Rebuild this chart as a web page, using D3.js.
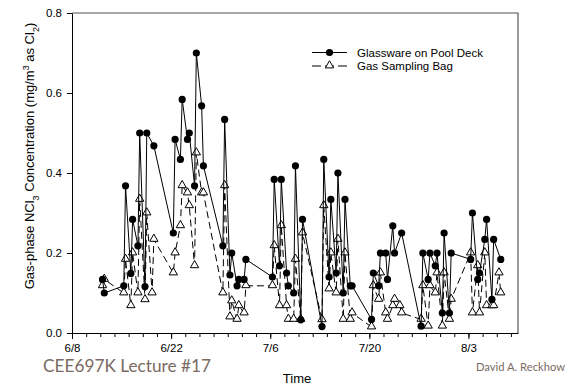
<!DOCTYPE html>
<html>
<head>
<meta charset="utf-8">
<script src="https://cdn.jsdelivr.net/npm/d3@7"></script>
<style>
  body { margin: 0; background: #fff; }
  svg { display: block; font-family: "Liberation Sans", Arial, sans-serif; }
</style>
</head>
<body>
<svg id="chart" width="571" height="385"></svg>
<script>
// sampling days (2009), two samples per day: morning and afternoon
var sampleDays = ["6/12",
  "6/15","6/16","6/17","6/18","6/19",
  "6/22","6/23","6/24","6/25","6/26",
  "6/29","6/30","7/1","7/2",
  "7/6","7/7","7/8","7/9","7/10",
  "7/13","7/14","7/15","7/16","7/17",
  "7/20","7/21","7/22","7/23","7/24",
  "7/27","7/28","7/29","7/30","7/31",
  "8/3","8/4","8/5","8/6","8/7"];
var sampleTimes = ["07:30", "13:30"];

// values in mg/m3 as Cl2, AM then PM for each day
var glassware = [0.134,0.100,
  0.118,0.368, 0.149,0.284, 0.218,0.500, 0.116,0.500, null,0.468,
  0.250,0.484, 0.434,0.584, 0.484,0.500, 0.368,0.700, 0.568,0.418,
  0.218,0.534, 0.145,0.200, 0.118,0.134, 0.134,0.184,
  0.140,0.384, 0.168,0.384, 0.150,0.118, 0.100,0.418, 0.033,0.284,
  0.016,0.434, 0.140,0.334, 0.150,0.400, 0.100,0.334, 0.118,0.118,
  0.034,0.150, 0.118,0.200, 0.200,0.134, 0.268,0.200, null,0.250,
  0.017,0.200, 0.134,0.200, 0.168,0.200, 0.050,0.250, 0.050,0.200,
  0.184,0.300, 0.134,0.150, 0.234,0.284, 0.084,0.234, null,0.184];
var gasBag = [0.118,0.134,
  0.100,0.184, 0.068,0.200, 0.100,0.334, 0.083,0.300, 0.100,0.234,
  0.150,0.200, 0.268,0.368, 0.350,0.318, 0.168,0.450, 0.350,0.350,
  0.100,0.368, 0.040,0.080, 0.034,0.068, 0.050,0.118,
  0.118,0.218, 0.068,0.268, 0.068,0.034, 0.034,0.184, 0.034,0.250,
  0.033,0.318, 0.110,0.200, 0.100,0.234, 0.034,0.200, 0.034,0.050,
  0.015,0.118, 0.084,0.150, 0.050,0.034, 0.068,0.084, 0.068,0.050,
  0.034,0.118, 0.017,0.118, 0.100,0.150, 0.017,0.150, 0.034,0.084,
  0.200,0.050, 0.168,0.050, 0.200,0.068, 0.068,0.068, 0.150,0.100];

var xTickLabels = ["6/8", "6/22", "7/6", "7/20", "8/3"];
var yTicks = [0.0, 0.2, 0.4, 0.6, 0.8];
var seriesNames = ["Glassware on Pool Deck", "Gas Sampling Bag"];

var year = 2009;
var parseTime = d3.timeParse("%m/%d/%Y %H:%M");
var parseDay = d3.timeParse("%m/%d/%Y");

var times = [];
sampleDays.forEach(function(d) {
  sampleTimes.forEach(function(t) { times.push(parseTime(d + "/" + year + " " + t)); });
});

function toPoints(values) {
  return values.map(function(v, i) { return {t: times[i], v: v}; })
    .filter(function(p) { return p.v !== null; });
}

var svg = d3.select("#chart");
var plotLeft = 72, plotRight = 518, plotTop = 13, plotBottom = 333;

var x = d3.scaleTime()
  .domain([parseDay("6/8/" + year), parseDay("8/10/" + year)])
  .range([plotLeft, plotRight]);
var y = d3.scaleLinear().domain([0, 0.8]).range([plotBottom, plotTop]);

// frame (top and right)
svg.append("path")
  .attr("d", "M" + plotLeft + "," + plotTop + "H" + plotRight + "V" + plotBottom)
  .attr("fill", "none").attr("stroke", "#555").attr("stroke-width", 1.2);

// x axis: minor ticks every 2 days, labelled majors every 2 weeks
var majorDates = xTickLabels.map(function(s) { return parseDay(s + "/" + year); });
var minorDates = d3.timeDay.range(x.domain()[0], d3.timeDay.offset(x.domain()[1], 1), 2);

svg.append("g")
  .attr("transform", "translate(0," + plotBottom + ")")
  .call(d3.axisBottom(x).tickValues(minorDates).tickSize(4).tickFormat("").tickSizeOuter(0))
  .call(function(g) { g.select(".domain").remove(); g.selectAll("text").remove(); });

var xAxis = svg.append("g")
  .attr("transform", "translate(0," + plotBottom + ")")
  .call(d3.axisBottom(x).tickValues(majorDates).tickSize(6).tickSizeOuter(0).tickPadding(5)
    .tickFormat(function(d, i) { return xTickLabels[i]; }));
xAxis.selectAll("text").attr("font-size", 11.5).attr("font-family", "Liberation Sans, Arial");

var yAxis = svg.append("g")
  .attr("transform", "translate(" + plotLeft + ",0)")
  .call(d3.axisLeft(y).tickValues(yTicks).tickSize(5).tickSizeOuter(0).tickPadding(5)
    .tickFormat(d3.format(".1f")));
yAxis.selectAll("text").attr("font-size", 11.5).attr("font-family", "Liberation Sans, Arial");
svg.selectAll(".domain").attr("stroke", "#000");

// axis titles
var ylab = svg.append("text")
  .attr("transform", "translate(34,156) rotate(-90)")
  .attr("text-anchor", "middle")
  .attr("font-size", 13);
ylab.append("tspan").text("Gas-phase NCl");
ylab.append("tspan").attr("font-size", 9).attr("baseline-shift", "sub").text("3");
ylab.append("tspan").text(" Concentration (mg/m");
ylab.append("tspan").attr("font-size", 9).attr("baseline-shift", "super").text("3");
ylab.append("tspan").text(" as Cl");
ylab.append("tspan").attr("font-size", 9).attr("baseline-shift", "sub").text("2");
ylab.append("tspan").text(")");

svg.append("text")
  .attr("x", (plotLeft + plotRight) / 2 + 2).attr("y", 383)
  .attr("text-anchor", "middle").attr("font-size", 13)
  .text("Time");

// series
var line = d3.line().x(function(d) { return x(d.t); }).y(function(d) { return y(d.v); });
var tri = d3.symbol().type(d3.symbolTriangle).size(30);

var bagPts = toPoints(gasBag);
svg.append("path").datum(bagPts)
  .attr("d", line).attr("fill", "none").attr("stroke", "#000")
  .attr("stroke-width", 1).attr("stroke-dasharray", "7,4");
svg.selectAll(".tri").data(bagPts).enter().append("path")
  .attr("class", "tri")
  .attr("d", tri)
  .attr("transform", function(d) { return "translate(" + x(d.t) + "," + (y(d.v) - 0.5) + ")"; })
  .attr("fill", "#fff").attr("stroke", "#000").attr("stroke-width", 1);

var glassPts = toPoints(glassware);
svg.append("path").datum(glassPts)
  .attr("d", line).attr("fill", "none").attr("stroke", "#000").attr("stroke-width", 1);
svg.selectAll(".dot").data(glassPts).enter().append("circle")
  .attr("class", "dot")
  .attr("cx", function(d) { return x(d.t); })
  .attr("cy", function(d) { return y(d.v); })
  .attr("r", 3.6).attr("fill", "#000");

// legend
var leg = svg.append("g").attr("font-size", 11.5);
seriesNames.forEach(function(name, i) {
  var ly = 52.5 + i * 13.5;
  leg.append("line").attr("x1", 312).attr("x2", 347).attr("y1", ly).attr("y2", ly)
    .attr("stroke", "#000").attr("stroke-width", 1)
    .attr("stroke-dasharray", i ? "9,4" : null);
  if (i === 0) {
    leg.append("circle").attr("cx", 329.5).attr("cy", ly).attr("r", 3.6).attr("fill", "#000");
  } else {
    leg.append("path").attr("d", tri).attr("transform", "translate(329.5," + (ly - 0.5) + ")")
      .attr("fill", "#fff").attr("stroke", "#000");
  }
  leg.append("text").attr("x", 357).attr("y", ly + 4).text(name);
});

// slide footer
svg.append("text")
  .attr("x", 43).attr("y", 372)
  .attr("font-family", "Lato, 'Noto Sans', sans-serif").attr("font-size", 18)
  .attr("fill", "#7a6a62")
  .attr("textLength", 168).attr("lengthAdjust", "spacingAndGlyphs")
  .text("CEE697K  Lecture #17");
svg.append("text")
  .attr("x", 476).attr("y", 371)
  .attr("font-family", "Lato, 'Noto Sans', sans-serif").attr("font-size", 11.5)
  .attr("fill", "#7a6a62")
  .attr("textLength", 89).attr("lengthAdjust", "spacingAndGlyphs")
  .text("David A. Reckhow");
</script>
</body>
</html>
